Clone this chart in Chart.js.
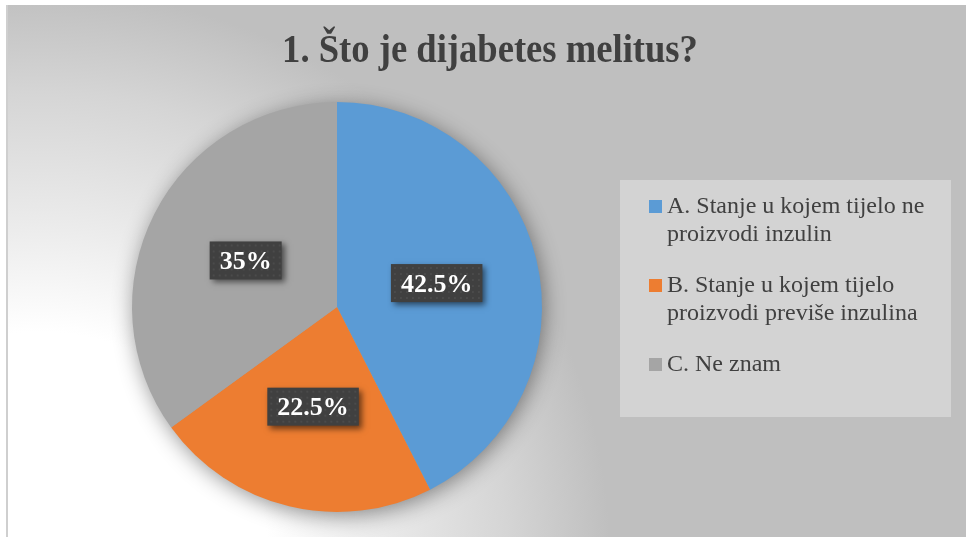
<!DOCTYPE html>
<html>
<head>
<meta charset="utf-8">
<script src="https://cdn.jsdelivr.net/npm/chart.js@4"></script>
<style>
html,body{margin:0;padding:0;background:#fff;}
canvas{display:block;}
</style>
</head>
<body>
<canvas id="c" width="966" height="537"></canvas>
<script>
const chartTitle = "1. Što je dijabetes melitus?";
const categories = [
  "A. Stanje u kojem tijelo ne proizvodi inzulin",
  "B. Stanje u kojem tijelo proizvodi previše inzulina",
  "C. Ne znam"
];
const values = [42.5, 22.5, 35];
const valueLabels = ["42.5%", "22.5%", "35%"];
const colors = ["#5B9BD5", "#ED7D31", "#A5A5A5"];

const SERIF = '"Liberation Serif", "Times New Roman", serif';

const backgroundPlugin = {
  id: 'bg',
  beforeDraw(chart) {
    const ctx = chart.ctx;
    ctx.save();
    ctx.fillStyle = '#ffffff';
    ctx.fillRect(0, 0, chart.width, chart.height);
    const g = ctx.createRadialGradient(40, 560, 0, 40, 560, 570);
    g.addColorStop(0, '#ffffff');
    g.addColorStop(0.40, '#ffffff');
    g.addColorStop(0.58, '#ececec');
    g.addColorStop(0.82, '#d5d5d5');
    g.addColorStop(1, '#bfbfbf');
    ctx.fillStyle = g;
    ctx.fillRect(8, 5, chart.width - 8, chart.height - 5);
    ctx.fillStyle = '#cfcfcf';
    ctx.fillRect(6, 5, 2, chart.height - 5);
    // title
    ctx.fillStyle = '#404040';
    ctx.font = 'bold 40px ' + SERIF;
    ctx.textAlign = 'center';
    ctx.textBaseline = 'alphabetic';
    ctx.translate(490, 62);
    ctx.scale(0.915, 1);
    ctx.fillText(chartTitle, 0, 0);
    ctx.restore();
  },
  beforeDatasetsDraw(chart) {
    const arc = chart.getDatasetMeta(0).data[0];
    if (!arc) return;
    const ctx = chart.ctx;
    ctx.save();
    ctx.shadowColor = 'rgba(0,0,0,0.45)';
    ctx.shadowBlur = 22;
    ctx.shadowOffsetX = 2;
    ctx.shadowOffsetY = 4;
    ctx.fillStyle = '#a0a0a0';
    ctx.beginPath();
    ctx.arc(arc.x, arc.y, arc.outerRadius - 1, 0, Math.PI * 2);
    ctx.fill();
    ctx.restore();
  }
};

const labelPlugin = {
  id: 'boxLabels',
  afterDatasetsDraw(chart) {
    const ctx = chart.ctx;
    const meta = chart.getDatasetMeta(0);
    ctx.save();
    ctx.font = 'bold 26px ' + SERIF;
    ctx.textAlign = 'center';
    ctx.textBaseline = 'middle';
    meta.data.forEach((arc, i) => {
      const p = arc.getCenterPoint();
      const txt = valueLabels[i];
      const w = ctx.measureText(txt).width + 20;
      const h = 38;
      ctx.save();
      ctx.shadowColor = 'rgba(0,0,0,0.55)';
      ctx.shadowBlur = 6;
      ctx.shadowOffsetX = 3;
      ctx.shadowOffsetY = 3;
      ctx.fillStyle = '#404040';
      ctx.fillRect(p.x - w / 2, p.y - h / 2, w, h);
      ctx.restore();
      ctx.fillStyle = 'rgba(255,255,255,0.06)';
      for (let yy = p.y - h / 2 + 3; yy < p.y + h / 2 - 1; yy += 6) {
        for (let xx = p.x - w / 2 + 3; xx < p.x + w / 2 - 1; xx += 6) {
          ctx.fillRect(xx, yy, 2, 2);
        }
      }
      ctx.fillStyle = '#ffffff';
      ctx.fillText(txt, p.x, p.y + 2);
    });
    ctx.restore();
  }
};

const legendPlugin = {
  id: 'boxLegend',
  afterDraw(chart) {
    const ctx = chart.ctx;
    ctx.save();
    ctx.fillStyle = '#d3d3d3';
    ctx.fillRect(620, 180, 331, 237);
    ctx.font = '24px ' + SERIF;
    ctx.textAlign = 'left';
    ctx.textBaseline = 'alphabetic';
    const maxW = 280;
    let y = 213;
    categories.forEach((label, i) => {
      const words = label.split(' ');
      const lines = [];
      let cur = '';
      words.forEach(wd => {
        const test = cur ? cur + ' ' + wd : wd;
        if (ctx.measureText(test).width > maxW && cur) { lines.push(cur); cur = wd; }
        else cur = test;
      });
      if (cur) lines.push(cur);
      ctx.fillStyle = colors[i];
      ctx.fillRect(649, y - 13, 13, 13);
      ctx.fillStyle = '#404040';
      lines.forEach((ln, k) => ctx.fillText(ln, 667, y + k * 28));
      y += lines.length * 28 + 23;
    });
    ctx.restore();
  }
};

new Chart(document.getElementById('c'), {
  type: 'pie',
  data: {
    labels: categories,
    datasets: [{
      data: values,
      backgroundColor: colors,
      borderWidth: 0,
      hoverOffset: 0,
      offset: 0
    }]
  },
  options: {
    responsive: false,
    animation: false,
    devicePixelRatio: 1,
    layout: { padding: { left: 132, right: 424, top: 102, bottom: 25 } },
    plugins: {
      legend: { display: false },
      title: { display: false },
      tooltip: { enabled: false }
    },
    events: []
  },
  plugins: [backgroundPlugin, labelPlugin, legendPlugin]
});
</script>
</body>
</html>
